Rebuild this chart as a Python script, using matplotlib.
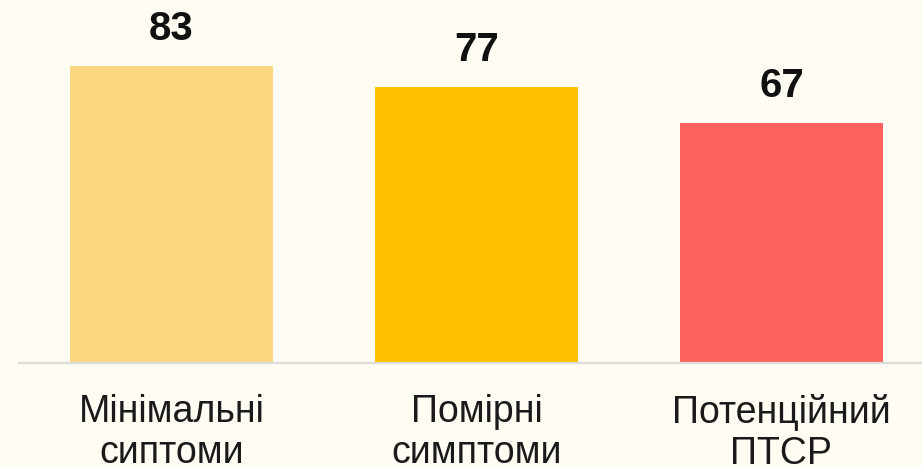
import matplotlib

matplotlib.use("Agg")
import matplotlib.pyplot as plt

# --- data ---
categories = ["Мінімальні\nсиптоми", "Помірні\nсимптоми", "Потенційний\nПТСР"]
values = [83, 77, 67]
colors = ["#FDD780", "#FFC000", "#FF625D"]

BG = "#FFFCF3"

plt.rcParams["font.family"] = ["Liberation Sans", "DejaVu Sans"]

fig = plt.figure(figsize=(9.22, 4.68), dpi=100, facecolor=BG)
ax = fig.add_axes([19 / 922, 105 / 468, 903 / 922, 363 / 468], facecolor=BG)

x = range(len(values))
bars = ax.bar(x, values, width=0.666, color=colors, zorder=2)

for b, v in zip(bars, values):
    ax.annotate(f"{v}", (b.get_x() + b.get_width() / 2, v), xytext=(0, 13),
                textcoords="offset points", ha="center", va="bottom",
                fontsize=29, fontweight="bold", color="#111111")

ax.set_xlim(-0.5, 2.461)
ax.set_ylim(0, 101.4)
ax.set_xticks(list(x))
ax.set_xticklabels(categories, fontsize=27, color="#1a1a1a", linespacing=1.2)
ax.tick_params(axis="x", length=0, pad=22)
ax.set_yticks([])
for side in ["top", "left", "right"]:
    ax.spines[side].set_visible(False)
ax.spines["bottom"].set_color("#DDDDDD")
ax.spines["bottom"].set_linewidth(1.6)

fig.savefig("out.png", dpi=100, facecolor=BG)
